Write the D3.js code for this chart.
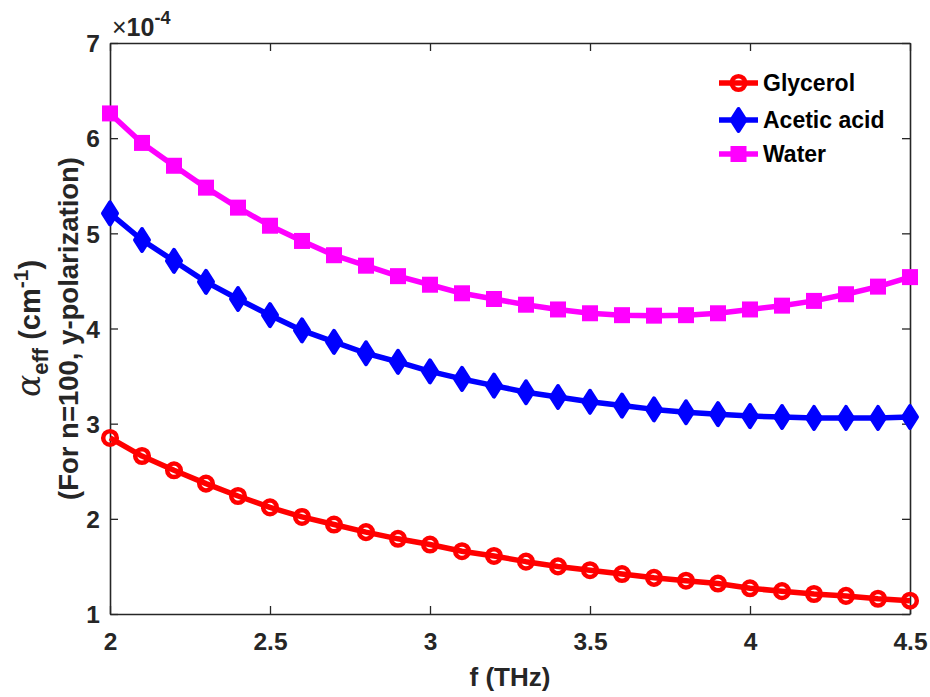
<!DOCTYPE html>
<html>
<head>
<meta charset="utf-8">
<script src="https://cdn.jsdelivr.net/npm/d3@7"></script>
<style>
html,body{margin:0;padding:0;background:#fff;}
svg{display:block;}
text{font-family:"Liberation Sans",Arial,Helvetica,sans-serif;}
</style>
</head>
<body>
<svg id="chart" width="930" height="697"></svg>
<script>
const freq = [2.0,2.1,2.2,2.3,2.4,2.5,2.6,2.7,2.8,2.9,3.0,3.1,3.2,3.3,3.4,3.5,3.6,3.7,3.8,3.9,4.0,4.1,4.2,4.3,4.4,4.5];
const glycerol = [2.85,2.66,2.51,2.37,2.24,2.12,2.02,1.94,1.86,1.79,1.73,1.66,1.61,1.55,1.50,1.46,1.42,1.38,1.35,1.32,1.27,1.24,1.21,1.19,1.16,1.14];
const aceticAcid = [5.21,4.93,4.71,4.49,4.31,4.14,3.98,3.86,3.74,3.65,3.55,3.47,3.40,3.33,3.28,3.23,3.19,3.15,3.12,3.10,3.08,3.07,3.06,3.06,3.06,3.07];
const water = [6.26,5.95,5.71,5.48,5.27,5.08,4.92,4.77,4.66,4.55,4.46,4.37,4.31,4.25,4.20,4.16,4.14,4.135,4.14,4.16,4.20,4.24,4.29,4.36,4.44,4.54];
const xTicks = [2,2.5,3,3.5,4,4.5];
const xTickLabels = ["2","2.5","3","3.5","4","4.5"];
const yTicks = [1,2,3,4,5,6,7];
const seriesNames = ["Glycerol","Acetic acid","Water"];

const svg = d3.select("#chart");
const L = 110, R = 910, T = 43, B = 614;
const x = d3.scaleLinear().domain([2,4.5]).range([L,R]);
const y = d3.scaleLinear().domain([1,7]).range([B,T]);
const axisColor = "#262626";
const tickFont = 24.5, labelFont = 27.5;

// axes
const gx = svg.append("g").attr("transform",`translate(0,${B})`)
  .call(d3.axisBottom(x).tickValues(xTicks).tickFormat((d,i)=>xTickLabels[i]).tickSizeInner(-8).tickSizeOuter(0).tickPadding(28));
const gxt = svg.append("g").attr("transform",`translate(0,${T})`)
  .call(d3.axisTop(x).tickValues(xTicks).tickFormat("").tickSizeInner(-8).tickSizeOuter(0));
const gy = svg.append("g").attr("transform",`translate(${L},0)`)
  .call(d3.axisLeft(y).tickValues(yTicks).tickFormat(d3.format("d")).tickSizeInner(-8).tickSizeOuter(0).tickPadding(10));
const gyr = svg.append("g").attr("transform",`translate(${R},0)`)
  .call(d3.axisRight(y).tickValues(yTicks).tickFormat("").tickSizeInner(-8).tickSizeOuter(0));
[gx,gxt,gy,gyr].forEach(g=>{
  g.select(".domain").attr("stroke",axisColor).attr("stroke-width",1.6);
  g.selectAll(".tick line").attr("stroke",axisColor).attr("stroke-width",1.3);
  g.selectAll(".tick text").attr("fill",axisColor).attr("font-size",tickFont).attr("font-weight","bold")
   .attr("font-family","'Liberation Sans',Arial,sans-serif");
});
gx.selectAll(".tick text").attr("dy","0.33em");
gy.selectAll(".tick text").attr("dy","0.36em");

// exponent label
const ex = svg.append("text").attr("x",L+2).attr("y",36).attr("fill",axisColor)
  .attr("font-size",25);
ex.append("tspan").text("×");
ex.append("tspan").attr("font-weight","bold").text("10");
ex.append("tspan").attr("font-weight","bold").attr("font-size",18).attr("dy",-12).text("-4");

// x label
svg.append("text").attr("x",(L+R)/2 + 0).attr("y",686).attr("text-anchor","middle")
  .attr("font-size",26).attr("font-weight","bold").attr("fill",axisColor).text("f (THz)");

// y label
const yl = svg.append("g").attr("transform",`translate(0,${(T+B)/2}) rotate(-90)`);
const l1 = yl.append("text").attr("x",0).attr("y",40).attr("text-anchor","middle").attr("fill",axisColor)
  .attr("font-size",labelFont + 1.5).attr("font-weight","bold");
l1.append("tspan").attr("font-family","'DejaVu Serif',serif").attr("font-style","italic").attr("font-weight","normal").attr("font-size",33).text("α");
l1.append("tspan").attr("font-size",22).attr("dy",8).text("eff");
l1.append("tspan").attr("dy",-8).text(" (cm");
l1.append("tspan").attr("font-size",21).attr("dy",-12).text("-1");
l1.append("tspan").attr("dy",12).text(")");
yl.append("text").attr("x",0).attr("y",78).attr("text-anchor","middle").attr("fill",axisColor)
  .attr("font-size",labelFont).attr("font-weight","bold").text("(For n=100, y-polarization)");

// series
const series = [
  {name:seriesNames[0], vals:glycerol, color:"#ff0000", marker:"circle"},
  {name:seriesNames[1], vals:aceticAcid, color:"#0000ff", marker:"diamond"},
  {name:seriesNames[2], vals:water, color:"#ff00ff", marker:"square"}
];
const line = d3.line().x(d=>x(d[0])).y(d=>y(d[1]));

function drawMarker(g, type, cx, cy, color){
  if(type==="circle"){
    g.append("circle").attr("cx",cx).attr("cy",cy).attr("r",6.8)
      .attr("fill","none").attr("stroke",color).attr("stroke-width",4.5);
  } else if(type==="diamond"){
    g.append("path").attr("d",`M${cx},${cy-11}L${cx+7},${cy}L${cx},${cy+11}L${cx-7},${cy}Z`)
      .attr("fill",color).attr("stroke",color).attr("stroke-width",4).attr("stroke-linejoin","round");
  } else {
    g.append("rect").attr("x",cx-6).attr("y",cy-6).attr("width",12).attr("height",12)
      .attr("fill",color).attr("stroke",color).attr("stroke-width",4);
  }
}

const plot = svg.append("g");
series.forEach(s=>{
  const pts = freq.map((f,i)=>[f,s.vals[i]]);
  plot.append("path").datum(pts).attr("d",line).attr("fill","none")
    .attr("stroke",s.color).attr("stroke-width",5.5).attr("stroke-linejoin","round");
  const mg = plot.append("g");
  pts.forEach(p=>drawMarker(mg,s.marker,x(p[0]),y(p[1]),s.color));
});

// legend
const legY = [83,120,154];
series.forEach((s,i)=>{
  const g = svg.append("g");
  g.append("line").attr("x1",719).attr("x2",758).attr("y1",legY[i]).attr("y2",legY[i])
    .attr("stroke",s.color).attr("stroke-width",5.5);
  drawMarker(g,s.marker,738.5,legY[i],s.color);
  g.append("text").attr("x",763).attr("y",legY[i]).attr("dy","0.36em")
    .attr("font-size",23).attr("font-weight","bold").attr("fill","#000").text(s.name);
});
</script>
</body>
</html>
